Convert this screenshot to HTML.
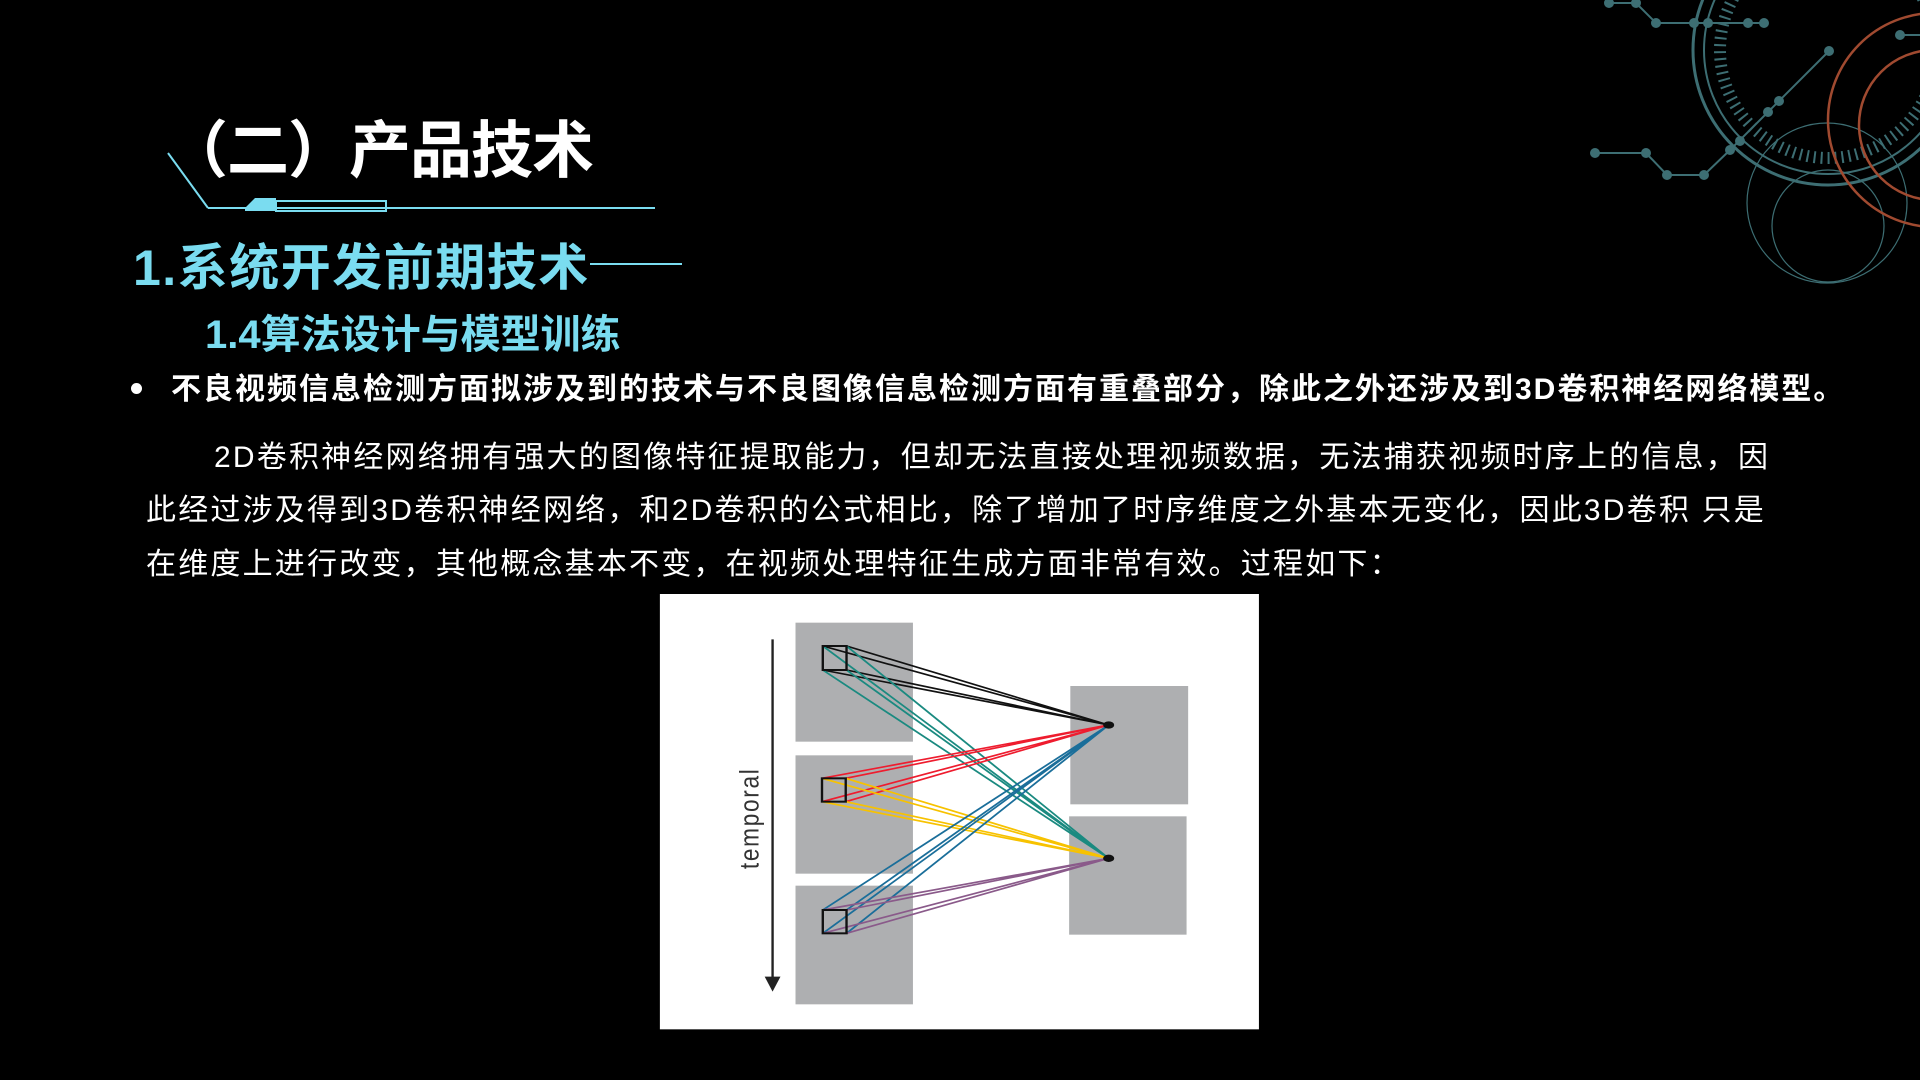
<!DOCTYPE html>
<html><head><meta charset="utf-8"><style>
html,body{margin:0;padding:0;background:#000;}
body{width:1920px;height:1080px;position:relative;overflow:hidden;font-family:"Liberation Sans","Noto Sans CJK SC",sans-serif;}
.t{position:absolute;white-space:nowrap;}
#title{left:166px;top:100px;font-size:62px;font-weight:bold;color:#fff;letter-spacing:-1px;}
#h1{left:133px;top:228px;font-size:50px;font-weight:bold;color:#7adcf0;letter-spacing:1.5px;}
#h2{left:205px;top:302px;font-size:40px;font-weight:bold;color:#7adcf0;letter-spacing:0px;}
#b{left:171px;top:364px;font-size:30px;font-weight:bold;color:#fff;letter-spacing:2px;}
#dot{position:absolute;left:131px;top:383px;width:11px;height:11px;border-radius:50%;background:#fff;}
.p{font-size:30px;color:#fff;letter-spacing:2.2px;}
</style></head><body>
<svg width="1920" height="1080" style="position:absolute;left:0;top:0">
 <g stroke="#7adcf0" fill="none" stroke-width="2">
  <line x1="168" y1="153" x2="208" y2="208"/>
  <line x1="208" y1="208" x2="655" y2="208"/>
  <rect x="276" y="201" width="110" height="10"/>
  <line x1="590" y1="264" x2="682" y2="264"/>
 </g>
 <polygon points="245,208 255,198 276,198 276,211 245,211" fill="#7adcf0"/>
 <g stroke="#3d6e73" fill="none">
  <circle cx="1828" cy="50" r="135" stroke-width="3"/>
  <circle cx="1828" cy="50" r="124" stroke-width="2"/>
  <circle cx="1828" cy="50" r="108" stroke-width="12" stroke-dasharray="2 5"/>
  <circle cx="1827" cy="203" r="80" stroke-width="1.2"/>
  <circle cx="1828" cy="226" r="56" stroke-width="1.2"/>
  <polyline points="1609,3 1636,3 1656,23 1764,23" stroke-width="2"/>
  <polyline points="1595,153 1646,153 1667,175 1704,175 1730,150 1829,51" stroke-width="2"/>
  <line x1="1900" y1="35" x2="1920" y2="35" stroke-width="2"/>
 </g>
 <g fill="#3d6e73">
  <circle cx="1609" cy="3" r="5"/><circle cx="1636" cy="3" r="5"/><circle cx="1656" cy="23" r="5"/><circle cx="1694" cy="23" r="5"/><circle cx="1708" cy="23" r="5"/><circle cx="1748" cy="23" r="5"/><circle cx="1764" cy="23" r="5"/>
  <circle cx="1595" cy="153" r="5"/><circle cx="1646" cy="153" r="5"/><circle cx="1667" cy="175" r="5"/><circle cx="1704" cy="175" r="5"/><circle cx="1730" cy="150" r="5"/><circle cx="1740" cy="141" r="5"/><circle cx="1768" cy="112" r="5"/><circle cx="1779" cy="101" r="5"/><circle cx="1829" cy="51" r="5"/><circle cx="1900" cy="35" r="5"/>
 </g>
 <g stroke="#a04a30" fill="none" stroke-width="2.5">
  <circle cx="1935" cy="120" r="107"/>
  <circle cx="1934" cy="125" r="75"/>
 </g>
</svg>
<div class="t" id="title">（二）产品技术</div>
<div class="t" id="h1">1.系统开发前期技术</div>
<div class="t" id="h2">1.4算法设计与模型训练</div>
<div id="dot"></div>
<div class="t" id="b">不良视频信息检测方面拟涉及到的技术与不良图像信息检测方面有重叠部分，除此之外还涉及到3D卷积神经网络模型。</div>
<div class="t p" style="left:214px;top:432px">2D卷积神经网络拥有强大的图像特征提取能力，但却无法直接处理视频数据，无法捕获视频时序上的信息，因</div>
<div class="t p" style="left:146px;top:485px">此经过涉及得到3D卷积神经网络，和2D卷积的公式相比，除了增加了时序维度之外基本无变化，因此3D卷积 只是</div>
<div class="t p" style="left:146px;top:539px">在维度上进行改变，其他概念基本不变，在视频处理特征生成方面非常有效。过程如下：</div>
<svg style="position:absolute;left:650px;top:590px" width="620" height="440" viewBox="0 0 1568 1320" preserveAspectRatio="none">
 <rect x="25" y="12" width="1515" height="1306" fill="#fff"/>
 <g fill="#aeafb1">
  <rect x="368" y="98" width="297" height="357"/>
  <rect x="368" y="496" width="297" height="355"/>
  <rect x="368" y="887" width="297" height="356"/>
  <rect x="1063" y="288" width="298" height="355"/>
  <rect x="1060" y="679" width="297" height="355"/>
 </g>
 <line x1="310" y1="148" x2="310" y2="1170" stroke="#222" stroke-width="6"/>
 <polygon points="290,1160 330,1160 310,1205" fill="#222"/>
 <text transform="translate(274,685) rotate(-90)" text-anchor="middle" font-family="Liberation Sans" font-size="68" fill="#333" style="letter-spacing:5px">temporal</text>
 <g stroke-width="5" fill="none">
  <g stroke="#111"><path d="M437,168L1160,405M497,168L1160,405M437,240L1160,405M497,240L1160,405"/></g>
  <g stroke="#1a8a80"><path d="M437,168L1160,805M497,168L1160,805M437,240L1160,805M497,240L1160,805"/></g>
  <g stroke="#ee1c2e"><path d="M435,565L1160,405M495,565L1160,405M435,635L1160,405M495,635L1160,405"/></g>
  <g stroke="#f7c200"><path d="M435,565L1160,805M495,565L1160,805M435,635L1160,805M495,635L1160,805"/></g>
  <g stroke="#1a6e9a"><path d="M437,960L1160,405M497,960L1160,405M437,1030L1160,405M497,1030L1160,405"/></g>
  <g stroke="#8a5a8a"><path d="M437,960L1160,805M497,960L1160,805M437,1030L1160,805M497,1030L1160,805"/></g>
 </g>
 <g stroke="#111" stroke-width="6" fill="none">
  <rect x="437" y="168" width="60" height="72"/>
  <rect x="435" y="565" width="60" height="70"/>
  <rect x="437" y="960" width="60" height="70"/>
 </g>
 <ellipse cx="1160" cy="405" rx="14" ry="11" fill="#111"/>
 <ellipse cx="1160" cy="805" rx="14" ry="11" fill="#111"/>
</svg>
</body></html>
